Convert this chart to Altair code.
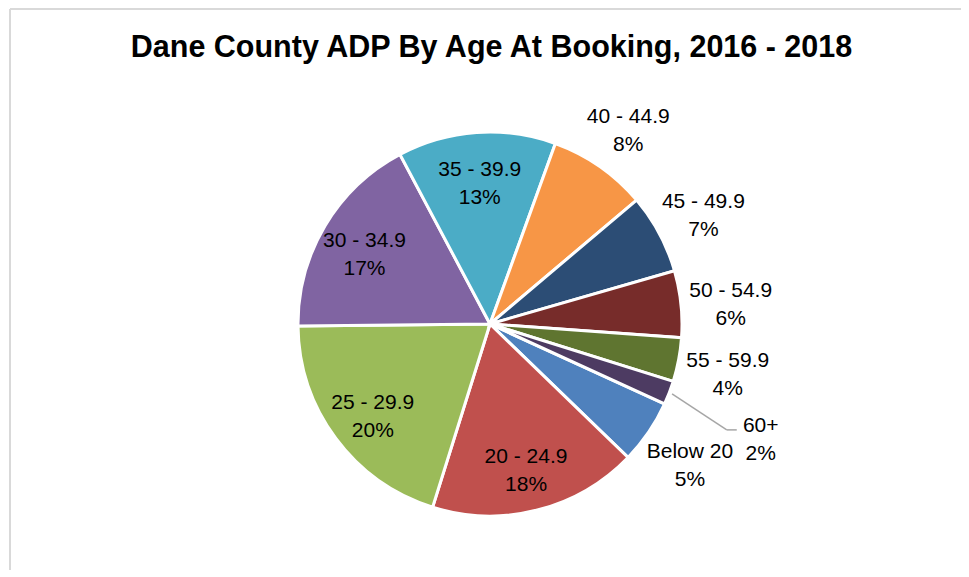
import math
import altair as alt
import pandas as pd

# ---- data ----
ages = ["Below 20", "20 - 24.9", "25 - 29.9", "30 - 34.9", "35 - 39.9",
        "40 - 44.9", "45 - 49.9", "50 - 54.9", "55 - 59.9", "60+"]
shares = [5.4, 17.6, 20.0, 17.4, 13.3, 8.3, 6.7, 5.6, 3.7, 2.0]
colors = ["#4F81BD", "#C0504D", "#9BBB59", "#8064A2", "#4BACC6",
          "#F79646", "#2C4D75", "#772C2A", "#5F7530", "#4D3B62"]
title_text = "Dane County ADP By Age At Booking, 2016 - 2018"

# label placement groups (styling, not data)
inside_labels = ["20 - 24.9", "25 - 29.9", "30 - 34.9", "35 - 39.9"]
leader_labels = ["60+"]

df = pd.DataFrame({
    "age": ages,
    "share": shares,
    "order": list(range(len(ages))),
    "label": [f"{a}\n{round(s)}%" for a, s in zip(ages, shares)],
    "place": ["in" if a in inside_labels else ("lead" if a in leader_labels else "out") for a in ages],
})

FONT = "Liberation Sans Narrow, Arial Narrow, Liberation Sans, Arial, sans-serif"
START = 2.0
CX, CY = 480, 315
R = 192
R_IN, R_OUT, R_LEAD = 146, 242, 290
FS = 21
LH = 28

theta_scale = alt.Scale(domain=[0, 100], range=[START, START + 2 * math.pi])

base = alt.Chart(df).transform_window(
    cum="sum(share)", sort=[alt.SortField("order")], frame=[None, 0]
).transform_calculate(
    mid="datum.cum - datum.share / 2",
    ang=f"{START} + (datum.cum - datum.share / 2) / 100 * 2 * PI",
)

arcs = alt.Chart(df).mark_arc(outerRadius=R, stroke="white", strokeWidth=3).encode(
    theta=alt.Theta("share:Q", stack=True, scale=theta_scale),
    order=alt.Order("order:Q"),
    color=alt.Color("age:N", scale=alt.Scale(domain=ages, range=colors), legend=None),
    x=alt.value(CX), y=alt.value(CY),
)

def text_layer(place, radius, dy):
    return base.transform_filter(f"datum.place == '{place}'").mark_text(
        radius=radius, font=FONT, fontSize=FS, lineBreak="\n", lineHeight=LH,
        align="center", baseline="middle", color="#000000", dy=dy,
    ).encode(
        theta=alt.Theta("mid:Q", stack=False, scale=theta_scale),
        text="label:N",
        x=alt.value(CX), y=alt.value(CY),
    )

lead_base = base.transform_filter("datum.place == 'lead'").transform_calculate(
    x1=f"{CX} + 195 * sin(datum.ang)",
    y1=f"{CY} - 195 * cos(datum.ang)",
    ex=f"{CX} + {R_LEAD} * sin(datum.ang) - 34",
    ey=f"{CY} - {R_LEAD} * cos(datum.ang) + 2",
    endx=f"{CX} + {R_LEAD} * sin(datum.ang) - 24",
)
lead1 = lead_base.mark_rule(color="#a6a6a6", strokeWidth=1.5).encode(
    x=alt.X("x1:Q", scale=None), y=alt.Y("y1:Q", scale=None),
    x2="ex:Q", y2="ey:Q",
)
lead2 = lead_base.mark_rule(color="#a6a6a6", strokeWidth=1.5).encode(
    x=alt.X("ex:Q", scale=None), y=alt.Y("ey:Q", scale=None),
    x2="endx:Q", y2="ey:Q",
)

frame_data = alt.Data(values=[{"k": 1}])
frame_left = alt.Chart(frame_data).mark_rule(color="#d9d9d9", strokeWidth=2).encode(
    x=alt.value(0), y=alt.value(0), y2=alt.value(600)
)
frame_top = alt.Chart(frame_data).mark_rule(color="#d9d9d9", strokeWidth=2).encode(
    x=alt.value(0), x2=alt.value(1000), y=alt.value(0)
)

chart = alt.layer(
    frame_left, frame_top, arcs,
    text_layer("in", R_IN, -8), text_layer("out", R_OUT, -8),
    text_layer("lead", R_LEAD, -2),
    lead1, lead2,
).properties(
    width=951, height=561,
    autosize=alt.AutoSizeParams(type="none"),
    padding={"left": 2, "top": 1, "right": 0, "bottom": 0},
    title=alt.TitleParams(
        text=title_text, font=FONT, fontSize=30.5, fontWeight="bold",
        color="#000000", anchor="middle", frame="group", offset=-48,
        baseline="alphabetic", dy=31, dx=6,
    ),
).configure_view(strokeWidth=0)

chart.save("out.html", embed_options={"renderer": "svg", "actions": False})
